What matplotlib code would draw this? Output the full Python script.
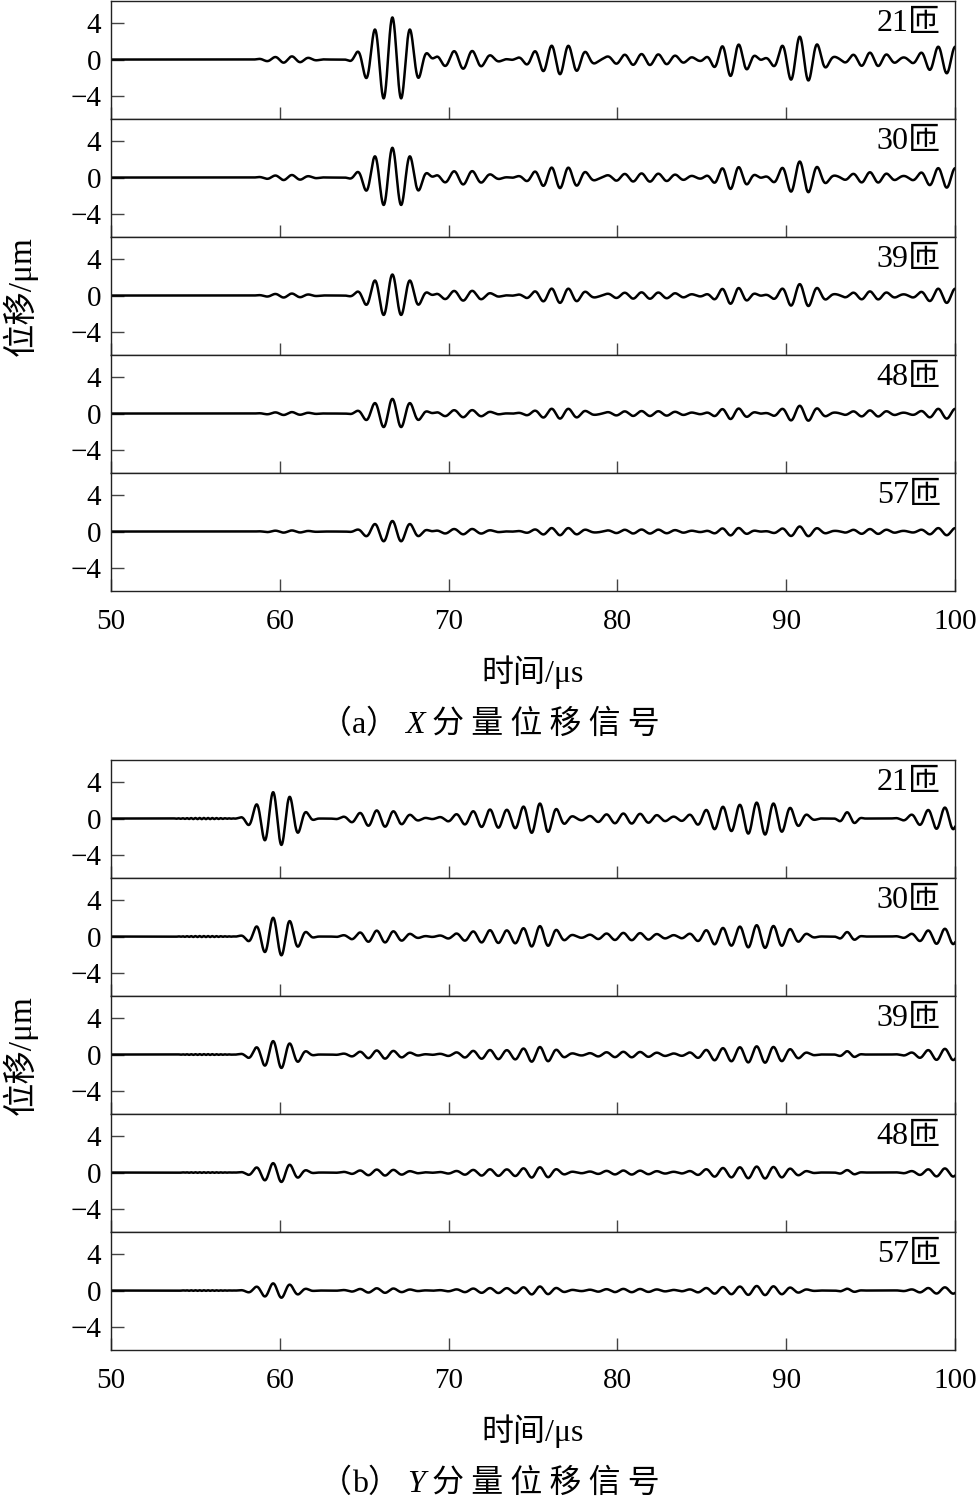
import numpy as np
import matplotlib
matplotlib.use('Agg')
import matplotlib.pyplot as plt

plt.rcParams['font.family'] = ['Liberation Serif', 'Noto Sans CJK SC']
plt.rcParams['axes.unicode_minus'] = True

# ---------------- data ----------------
turns = ['21匝', '30匝', '39匝', '48匝', '57匝']
xticks = [50, 60, 70, 80, 90, 100]
yticks = [-4, 0, 4]

# (a) X component: wave packets (centre us, window length us, frequency MHz, crest time us)
x_centre = [60.5, 66.67, 70.9, 76.6, 81.6, 86.8, 90.85, 95.0, 99.5]
x_width = [5.0, 5.8, 6.0, 6.5, 10.0, 4.0, 5.0, 5.5, 6.0]
x_freq = [1.0, 0.95, 0.92, 1.0, 1.0, 1.0, 0.95, 1.0, 0.98]
x_crest = [59.72, 66.67, 70.32, 76.1, 81.43, 87.2, 90.8, 94.96, 99.0]
x_amp = [
    [0.35, 4.6, 1.0, 1.6, 0.6, 1.8, 2.5, 0.75, 1.5],       # 21匝
    [0.28, 3.25, 0.75, 1.15, 0.45, 1.25, 1.75, 0.58, 1.1],  # 30匝
    [0.22, 2.3, 0.55, 0.8, 0.35, 0.9, 1.25, 0.45, 0.8],    # 39匝
    [0.16, 1.6, 0.4, 0.55, 0.27, 0.6, 0.85, 0.34, 0.55],   # 48匝
    [0.12, 1.15, 0.3, 0.4, 0.22, 0.42, 0.55, 0.27, 0.4],   # 57匝
]

# (b) Y component
y_centre = [55.5, 59.85, 66.0, 72.8, 75.6, 80.6, 86.5, 89.3, 93.7, 99.5]
y_width = [5.0, 5.1, 6.5, 9.0, 4.5, 9.0, 7.0, 6.0, 2.0, 7.0]
y_freq = [4.0, 1.0, 1.0, 1.0, 1.0, 1.0, 1.0, 1.0, 1.0, 1.0]
y_crest = [55.0, 59.6, 65.74, 72.45, 75.4, 80.35, 88.25, 88.25, 93.6, 99.4]
y_amp = [
    [0.06, 2.95, 0.9, 1.0, 1.3, 0.55, 1.3, 1.5, 0.7, 1.2],
    [0.05, 2.1, 0.65, 0.7, 0.9, 0.4, 0.95, 1.05, 0.5, 0.85],
    [0.04, 1.5, 0.45, 0.5, 0.65, 0.3, 0.7, 0.75, 0.37, 0.62],
    [0.03, 1.05, 0.33, 0.36, 0.45, 0.22, 0.5, 0.55, 0.27, 0.45],
    [0.03, 0.8, 0.25, 0.27, 0.35, 0.18, 0.38, 0.42, 0.2, 0.35],
]

xlabel_text = '时间/μs'
ylabel_text = '位移/μm'
captions = [('a', 'X'), ('b', 'Y')]


def signal(t, centre, width, freq, crest, amp):
    y = np.zeros_like(t)
    for c, w, f, tc, a in zip(centre, width, freq, crest, amp):
        u = (t - c) / w
        env = np.where(np.abs(u) < 0.5, np.cos(np.pi * u) ** 2, 0.0)
        y += a * env * np.cos(2 * np.pi * f * (t - tc))
    return y


t = np.linspace(50, 100, 10001)

W, H = 979, 1500
fig = plt.figure(figsize=(W / 100, H / 100), dpi=100)
left_px, right_px = 111, 955
panel_h = 118
group_tops = [1, 760]
groups = [(x_centre, x_width, x_freq, x_crest, x_amp),
          (y_centre, y_width, y_freq, y_crest, y_amp)]

serif = 'Liberation Serif'
cjk = 'Noto Sans CJK SC'
mixed = [serif, cjk]

for g, (cen, wid, fr, cr, amps) in enumerate(groups):
    top0 = group_tops[g]
    for i, name in enumerate(turns):
        top = top0 + i * panel_h
        ax = fig.add_axes([left_px / W, 1 - (top + panel_h) / H,
                           (right_px - left_px) / W, panel_h / H])
        ax.plot(t, signal(t, cen, wid, fr, cr, amps[i]), color='black', lw=1.8)
        ax.set_xlim(50, 100)
        ax.set_ylim(-6.5, 6.4)
        ax.set_xticks(xticks)
        ax.set_yticks(yticks)
        ax.tick_params(direction='in', length=9, width=1.0, color='#444444',
                       labelsize=21)
        ax.tick_params(axis='y', pad=7)
        ax.tick_params(axis='x', pad=13, labelbottom=(i == len(turns) - 1))
        for lab in ax.get_xticklabels() + ax.get_yticklabels():
            lab.set_fontfamily(serif)
        for sp in ax.spines.values():
            sp.set_linewidth(1.0)
            sp.set_color('#222222')
        ax.text(0.983, 0.81, name, transform=ax.transAxes, ha='right',
                va='center', fontsize=23, family=mixed)

    bottom = top0 + 5 * panel_h
    # x label
    fig.text((left_px + right_px) / 2 / W, 1 - (bottom + 81) / H, xlabel_text,
             ha='center', va='center', fontsize=23, family=mixed)
    # y label
    fig.text(20 / W, 1 - (top0 + bottom) / 2 / H, ylabel_text, rotation=90,
             ha='center', va='center', fontsize=24, family=mixed)

# captions built from pieces (italic component letter)
fig.canvas.draw()
renderer = fig.canvas.get_renderer()
for g, (letter, comp) in enumerate(captions):
    bottom = group_tops[g] + 5 * panel_h
    ybase = 1 - (bottom + 142) / H
    pieces = [('（', [cjk], 'normal'), (letter, [serif], 'normal'),
              ('） ', [cjk], 'normal'), (comp, [serif], 'italic'),
              (' 分 量 位 移 信 号', [cjk], 'normal')]
    texts = []
    x = 0.0
    for s, fam, style in pieces:
        tx = fig.text(x, ybase, s, ha='left', va='baseline', fontsize=23,
                      family=fam, style=style)
        bb = tx.get_window_extent(renderer)
        texts.append(tx)
        x += bb.width / W
    total = x
    xx = 0.5 - total / 2
    for tx in texts:
        bb = tx.get_window_extent(renderer)
        tx.set_x(xx)
        xx += bb.width / W

fig.savefig('out.png', dpi=100)
